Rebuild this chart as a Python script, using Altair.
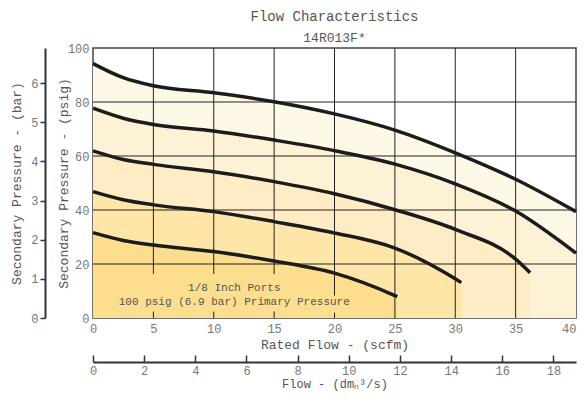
import altair as alt
import pandas as pd

# ---------------- data ----------------
scfm_ticks = [0, 5, 10, 15, 20, 25, 30, 35, 40]
psig_ticks = [0, 20, 40, 60, 80, 100]
bar_ticks = [0, 1, 2, 3, 4, 5, 6]
dm_ticks = [0, 2, 4, 6, 8, 10, 12, 14, 16, 18]
BAR_AT_100_PSIG = 6.895
DM_AT_40_SCFM = 18.88

c1_x = [0, 2.5, 5, 10, 15, 20, 25, 30, 35, 40]
c1_y = [94.2, 89.0, 86.0, 83.4, 80.1, 75.6, 69.6, 61.2, 51.4, 39.4]
c2_x = [0, 2.5, 5, 10, 15, 20, 25, 30, 35, 40]
c2_y = [77.7, 74.0, 71.7, 69.3, 65.9, 62.0, 57.0, 49.7, 39.6, 24.0]
c3_x = [0, 2.5, 5, 10, 15, 20, 25, 30, 35, 36.2]
c3_y = [61.9, 58.7, 56.9, 54.2, 50.5, 46.0, 40.1, 32.8, 21.8, 16.8]
c4_x = [0, 2.5, 5, 10, 15, 20, 25, 30, 30.5]
c4_y = [46.8, 43.8, 41.9, 39.4, 35.7, 31.5, 25.9, 14.5, 13.1]
c5_x = [0, 2.5, 5, 10, 15, 20, 25, 25.2]
c5_y = [31.6, 28.7, 27.0, 24.6, 21.1, 16.6, 8.3, 7.9]

band_colors = ["#FEF8E6", "#FEF2D6", "#FEEDC4", "#FDE6A7", "#FCDE8E"]

grid_x = [5, 10, 15, 20, 25, 30, 35]
grid_lo = [16.3, 16.3, 16.3, 8.3, 0, 0, 0]
stub_x = [5, 10, 15, 20]
stub_hi = [2.4, 2.4, 2.4, 2.0]
hgrid_y = [20, 40, 60, 80]

note_lines = ["1/8 Inch Ports", "100 psig (6.9 bar) Primary Pressure"]
note_x = [11.7, 11.7]
note_y = [11.0, 5.9]

# ---------------- build tables ----------------
rows = []
for i, (xs, ys) in enumerate([(c1_x, c1_y), (c2_x, c2_y), (c3_x, c3_y), (c4_x, c4_y), (c5_x, c5_y)]):
    for x, y in zip(xs, ys):
        rows.append({"curve": i, "scfm": x, "psig": y})
df = pd.DataFrame(rows)
df_grid = pd.DataFrame({"scfm": grid_x, "lo": grid_lo, "hi": [100] * len(grid_x)})
df_stub = pd.DataFrame({"scfm": stub_x, "lo": [0] * len(stub_x), "hi": stub_hi})
df_h = pd.DataFrame({"psig": hgrid_y})
df_note = pd.DataFrame({"scfm": note_x, "psig": note_y, "t": note_lines})
df_aux = pd.DataFrame({"dm": [0, DM_AT_40_SCFM], "bar": [0, BAR_AT_100_PSIG],
                       "scfm": [0, 40], "psig": [0, 100]})

FONT = "Liberation Mono"
LABEL_C = "#777777"
TITLE_C = "#555555"
DARK = "#333333"

sx = alt.Scale(domain=[0, 40], nice=False, zero=False)
sy = alt.Scale(domain=[0, 100], nice=False, zero=False)


def X(field):
    return alt.X(field, scale=sx, axis=None)


def Y(field, **kw):
    return alt.Y(field, scale=sy, axis=None, **kw)


layers = []
for i in range(5):
    layers.append(
        alt.Chart(df).transform_filter(alt.datum.curve == i)
        .mark_area(color=band_colors[i], interpolate="monotone")
        .encode(x=X("scfm:Q"), y=Y("psig:Q", stack=None)))

vgrid = alt.Chart(df_grid).mark_rule(color="#222222", strokeWidth=1).encode(
    x=X("scfm:Q"), y=Y("lo:Q"), y2="hi:Q")
stubs = alt.Chart(df_stub).mark_rule(color="#222222", strokeWidth=1).encode(
    x=X("scfm:Q"), y=Y("lo:Q"), y2="hi:Q")
hgrid = alt.Chart(df_h).mark_rule(color="#222222", strokeWidth=1).encode(y=Y("psig:Q"))
lines = alt.Chart(df).mark_line(color="#1c1c1c", strokeWidth=3.5, interpolate="monotone").encode(
    x=X("scfm:Q"), y=Y("psig:Q"), detail="curve:N")
notes = alt.Chart(df_note).mark_text(font=FONT, fontSize=11, color=TITLE_C, align="center",
                                     baseline="middle").encode(
    x=X("scfm:Q"), y=Y("psig:Q"), text="t:N")

main = alt.layer(*layers, vgrid, stubs, hgrid, lines, notes)

# axes for scfm / psig
aux0 = alt.Chart(df_aux).mark_point(opacity=0).encode(
    x=alt.X("scfm:Q", scale=sx,
            axis=alt.Axis(orient="bottom", values=scfm_ticks, ticks=False, domain=False,
                          grid=False, labelFlush=False, labelFont=FONT, labelFontSize=12,
                          labelColor=LABEL_C, labelPadding=5,
                          labelAlign={"expr": "datum.value >= 40 ? 'right' : 'center'"},
                          title="Rated Flow - (scfm)",
                          titleFont=FONT, titleFontSize=13, titleFontWeight="normal",
                          titleColor=TITLE_C, titlePadding=4)),
    y=alt.Y("psig:Q", scale=sy,
            axis=alt.Axis(orient="left", values=psig_ticks, ticks=False, domain=False,
                          grid=False, labelFlush=False, labelFont=FONT, labelFontSize=12,
                          labelColor=LABEL_C, labelPadding=4,
                          title="Secondary Pressure - (psig)", titleFont=FONT,
                          titleFontSize=13, titleFontWeight="normal", titleColor=TITLE_C,
                          titlePadding=-3)))

sdm = alt.Scale(domain=[0, DM_AT_40_SCFM], nice=False, zero=False)
sbar = alt.Scale(domain=[0, BAR_AT_100_PSIG], nice=False, zero=False)

aux1 = alt.Chart(df_aux).mark_point(opacity=0).encode(
    x=alt.X("dm:Q", scale=sdm,
            axis=alt.Axis(orient="bottom", offset=44, values=dm_ticks, domain=False, ticks=False,
                          tickSize=0, grid=False, labelFlush=False, labelFont=FONT,
                          labelFontSize=12, labelColor=LABEL_C, labelPadding=3,
                          title="Flow - (dmₙ³/s)", titleFont=FONT, titleFontSize=12,
                          titleFontWeight="normal", titleColor=TITLE_C, titlePadding=2)),
    y=alt.Y("bar:Q", scale=sbar,
            axis=alt.Axis(orient="left", offset=48, values=bar_ticks, grid=False,
                          labelFlush=False, domainColor=DARK, domainWidth=2, tickColor=DARK,
                          tickWidth=1.5, tickSize=5, labelFont=FONT, labelFontSize=12,
                          labelColor=LABEL_C, labelPadding=2,
                          title="Secondary Pressure - (bar)", titleFont=FONT,
                          titleFontSize=13, titleFontWeight="normal", titleColor=TITLE_C,
                          titlePadding=7)))
aux2 = alt.Chart(df_aux).mark_point(opacity=0).encode(
    x=alt.X("dm:Q", scale=sdm,
            axis=alt.Axis(orient="top", offset=-314, values=dm_ticks, labels=False, grid=False,
                          domainColor=DARK, domainWidth=2, tickColor=DARK, tickWidth=1.5,
                          tickSize=7, title="")),
    y=alt.Y("bar:Q", scale=sbar, axis=None))

chart = alt.layer(main, aux0, aux1, aux2).resolve_scale(x="independent", y="independent").properties(
    width=483, height=270,
    autosize=alt.AutoSizeParams(type="none"),
    padding={"left": 85, "top": 40, "right": 2, "bottom": 74},
    title=alt.TitleParams("Flow Characteristics", subtitle="14R013F*", anchor="middle",
                          font=FONT, fontSize=14, fontWeight="normal", color=TITLE_C,
                          subtitleFont=FONT, subtitleFontSize=13, subtitleColor=TITLE_C,
                          offset=-3, subtitlePadding=8)
).configure_view(stroke="#444444", strokeWidth=1.5)

chart.save("out.html", embed_options={"renderer": "svg", "actions": False})
